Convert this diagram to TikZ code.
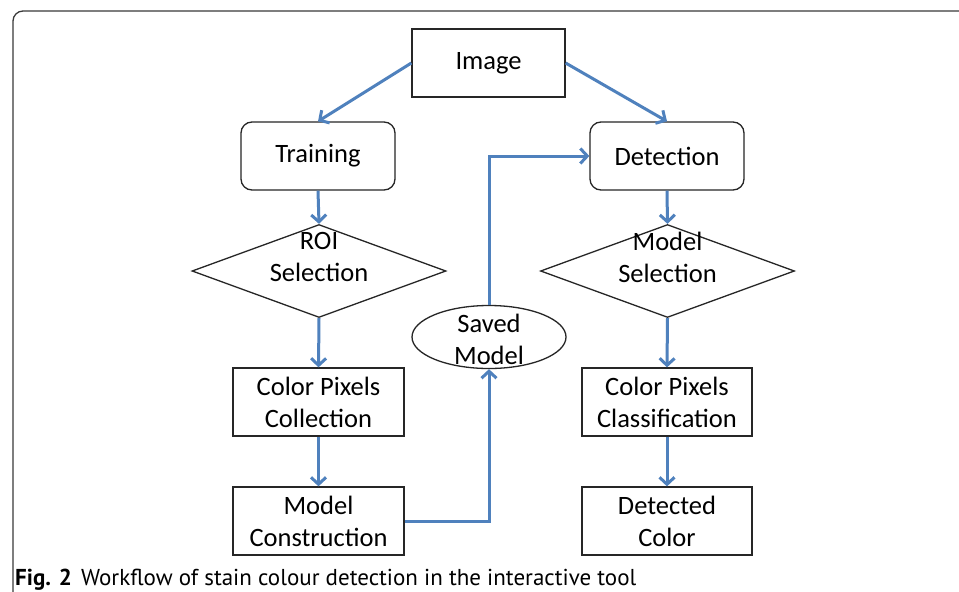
\documentclass[tikz,border=0pt]{standalone}
\usepackage{fontspec}
\setmainfont{Carlito}
\newfontfamily\capfont{PT Sans}
\usetikzlibrary{shapes.geometric,arrows.meta,calc}
\definecolor{arrowblue}{HTML}{4F81BD}
\definecolor{framegray}{HTML}{3A3A3A}
\begin{document}
\begin{tikzpicture}[x=1pt,y=-1pt,
  every node/.style={font=\fontsize{26.5}{32}\selectfont, text=black},
  sqbox/.style={draw=black!85, line width=1.3pt, rectangle, minimum width=#1, minimum height=68pt, inner sep=0pt, align=center},
  rbox/.style={draw=black!85, line width=1.3pt, rectangle, rounded corners=11pt, minimum width=154pt, minimum height=68pt, inner sep=0pt, align=center},
  decision/.style={draw=black!85, line width=1.3pt, diamond, minimum width=254pt, minimum height=93pt, inner sep=0pt},
  store/.style={draw=black!85, line width=1.3pt, ellipse, minimum width=154pt, minimum height=63pt, inner sep=0pt},
  lbl/.style={align=center, inner sep=0pt},
  flow/.style={draw=arrowblue, line width=3pt, -{Straight Barb[length=7pt,width=15pt,line width=3pt]}}
]
\useasboundingbox (0,0) rectangle (959,592);
\fill[white] (0,0) rectangle (959,592);
% frame
\draw[framegray, line width=1.3pt, rounded corners=10pt] (13,600) -- (13,11) -- (970,11);

% nodes
\node[sqbox=153pt] (img) at (488.5,63) {Image};
\node[rbox] (train) at (318,156) {Training};
\node[rbox] (det) at (667,156) {Detection};
\node[decision] (roi) at (319,271) {};
\node[lbl] (roit) at (319,257) {ROI\\Selection};
\node[decision] (msel) at (667.5,271) {};
\node[lbl] (mselt) at (667.5,257) {Model\\Selection};
\node[store] (saved) at (489,337) {};
\node[lbl] (savedt) at (489,339) {Saved\\Model};
\node[sqbox=171pt] (cpc) at (318.5,402) {Color Pixels\\Collection};
\node[sqbox=171pt] (mc) at (318.5,521) {Model\\Construction};
\node[sqbox=170pt] (cpcl) at (667,402) {Color Pixels\\Classification};
\node[sqbox=170pt] (dc) at (667,521) {Detected\\Color};

% connectors
\draw[flow] (img.west) -- (train.north);
\draw[flow] (img.east) -- (det.north);
\draw[flow] (train.south) -- (roi.north);
\draw[flow] (roi.south) -- (cpc.north);
\draw[flow] (cpc.south) -- (mc.north);
\draw[flow] (det.south) -- (msel.north);
\draw[flow] (msel.south) -- (cpcl.north);
\draw[flow] (cpcl.south) -- (dc.north);
\draw[flow] (mc.east) -| (saved.south);
\draw[flow] (saved.north) |- (det.west);

% caption
\node[anchor=base west, inner sep=0pt, font=\capfont\fontsize{23}{26}\selectfont] (cap) at (15,585) {\textbf{Fig. 2}\hspace{0.4em}Workflow of stain colour detection in the interactive tool};
\end{tikzpicture}
\end{document}
